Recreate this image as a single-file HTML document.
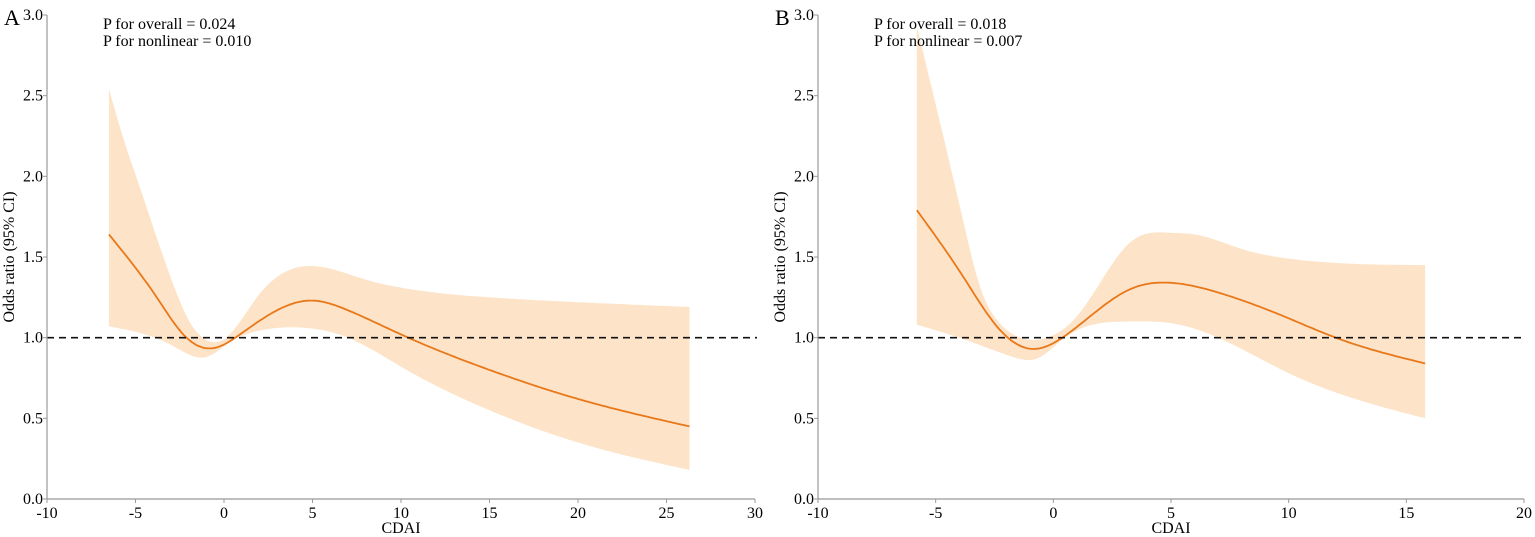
<!DOCTYPE html>
<html><head><meta charset="utf-8"><style>
body{margin:0;background:#fff}
svg{display:block;font-family:"Liberation Serif",serif}
</style></head><body>
<svg id="c" width="1535" height="537"></svg>
<script>
const xTicksA=[-10,-5,0,5,10,15,20,25,30];
const xTicksB=[-10,-5,0,5,10,15,20];
const yTicks=[0,0.5,1.0,1.5,2.0,2.5,3.0];
const lineA_x=[-6.5,-3.8,-2.3,-0.6,0.9,3,4.9,7,10,15,20,26.3];
const lineA_y=[1.64,1.25,1.02,0.935,1.02,1.17,1.23,1.17,1.02,0.80,0.62,0.45];
const upA_x=[-6.5,-5.7,-4.75,-3.8,-2.9,-1.9,-1.2,0,1.86,3.7,5.4,8,10,15,20,26.3];
const upA_y=[2.54,2.24,1.93,1.62,1.34,1.09,1.0,0.99,1.25,1.42,1.44,1.36,1.31,1.25,1.22,1.19];
const loA_x=[-6.5,-2.9,-1,0.3,1.86,4.7,7,10,15,20,26.3];
const loA_y=[1.07,0.95,0.88,0.97,1.04,1.06,1.0,0.82,0.55,0.35,0.18];
const lineB_x=[-5.8,-3.84,-2.4,-0.86,0.58,3.26,5,7,10,12,15.8];
const lineB_y=[1.79,1.38,1.07,0.93,1.02,1.30,1.34,1.28,1.12,1.0,0.84];
const upB_x=[-5.8,-4.5,-3.84,-3.1,-2.4,-1.4,-0.27,1.1,3.26,5,6,8,10,15.8];
const upB_y=[2.93,2.14,1.73,1.31,1.11,1.0,1.0,1.15,1.59,1.65,1.64,1.55,1.49,1.45];
const loB_x=[-5.8,-3.8,-1.7,-0.7,0.4,3.3,5,7,10,15.8];
const loB_y=[1.08,0.99,0.88,0.87,0.99,1.1,1.09,1.0,0.78,0.5];
const refOR=1.0;

const svg=document.getElementById('c');
const NS='http://www.w3.org/2000/svg';
function mk(tag,attrs,parent){const e=document.createElementNS(NS,tag);for(const k in attrs)e.setAttribute(k,attrs[k]);(parent||svg).appendChild(e);return e;}
function spline(xs,ys){const n=xs.length,h=[],al=[],l=[1],mu=[0],z=[0],c=new Array(n).fill(0),b=[],d=[];
 for(let i=0;i<n-1;i++)h.push(xs[i+1]-xs[i]);
 for(let i=1;i<n-1;i++)al[i]=3/h[i]*(ys[i+1]-ys[i])-3/h[i-1]*(ys[i]-ys[i-1]);
 for(let i=1;i<n-1;i++){l[i]=2*(xs[i+1]-xs[i-1])-h[i-1]*mu[i-1];mu[i]=h[i]/l[i];z[i]=(al[i]-h[i-1]*z[i-1])/l[i];}
 for(let j=n-2;j>=0;j--){c[j]=(j<n-1&&j>0?z[j]-mu[j]*c[j+1]:(j===0?0:0));b[j]=(ys[j+1]-ys[j])/h[j]-h[j]*(c[j+1]+2*c[j])/3;d[j]=(c[j+1]-c[j])/(3*h[j]);}
 return v=>{let i=0;while(i<n-2&&v>xs[i+1])i++;const t=v-xs[i];return ys[i]+b[i]*t+c[i]*t*t+d[i]*t*t*t;};}
function samp(xs,ys,X,Y){const f=spline(xs,ys),a=xs[0],b=xs[xs.length-1],pts=[];for(let k=0;k<=240;k++){const v=a+(b-a)*k/240;pts.push([X(v),Y(f(v))]);}return pts;}
function panel(id,x0,x1,xmin,xmax,xt,lx,ly,ux,uy,bx,by,letter,p1,p2){
 const g=mk('g',{});
 const X=v=>x0+(v-xmin)/(xmax-xmin)*(x1-x0), Y=v=>499-v/3*484;
 const up=samp(ux,uy,X,Y), lo=samp(bx,by,X,Y).reverse();
 const band=mk('path',{d:'M'+up.concat(lo).map(p=>p[0].toFixed(1)+','+p[1].toFixed(1)).join(' L')+' Z',fill:'#fde3c8',stroke:'none'},g);
 
 const lp=samp(lx,ly,X,Y);
 const ln=mk('path',{d:'M'+lp.map(p=>p[0].toFixed(1)+','+p[1].toFixed(1)).join(' L'),fill:'none',stroke:'#e8781a','stroke-width':1.8},g);
 
 const rl=mk('line',{x1:x0,x2:x1+2,y1:Y(refOR),y2:Y(refOR),stroke:'#111','stroke-width':1.6,'stroke-dasharray':'7,5'},g);
 
 const ax=mk('g',{},g);
 mk('line',{x1:x0,x2:x0,y1:Y(3),y2:499,stroke:'#999','stroke-width':1.2},ax);
 mk('line',{x1:x0,x2:x1,y1:499,y2:499,stroke:'#999','stroke-width':1.2},ax);
 yTicks.forEach(t=>{mk('line',{x1:x0-4,x2:x0,y1:Y(t),y2:Y(t),stroke:'#999'},ax);
  const tx=mk('text',{x:x0-4,y:Y(t)+5,'text-anchor':'end','font-size':16},ax);tx.textContent=t.toFixed(1);});
 xt.forEach(t=>{mk('line',{x1:X(t),x2:X(t),y1:499,y2:503,stroke:'#999'},ax);
  const tx=mk('text',{x:X(t),y:518,'text-anchor':'middle','font-size':16},ax);tx.textContent=t;});
 const xl=mk('text',{x:(x0+x1)/2,y:533,'text-anchor':'middle','font-size':16},g);xl.textContent='CDAI';
 
 const yl=mk('text',{x:0,y:0,'text-anchor':'middle','font-size':16,transform:'translate('+(x0-33)+',257) rotate(-90)'},g);yl.textContent='Odds ratio (95% CI)';
 
 const pl=mk('text',{x:x0-43,y:25,'font-size':22},g);pl.textContent=letter;
 
 const a=mk('text',{x:x0+56,y:29,'font-size':16},g);a.textContent=p1;
 
 const b=mk('text',{x:x0+56,y:46,'font-size':16},g);b.textContent=p2;
 
}
panel('a',47,755,-10,30,xTicksA,lineA_x,lineA_y,upA_x,upA_y,loA_x,loA_y,'A','P for overall = 0.024','P for nonlinear = 0.010');
panel('b',818,1524,-10,20,xTicksB,lineB_x,lineB_y,upB_x,upB_y,loB_x,loB_y,'B','P for overall = 0.018','P for nonlinear = 0.007');
</script>
</body></html>
